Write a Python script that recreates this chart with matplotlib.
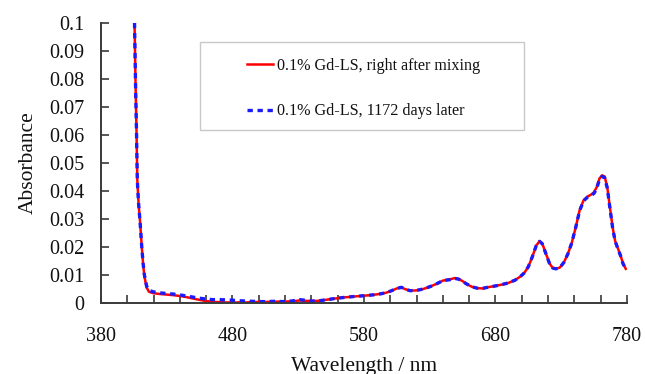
import matplotlib
matplotlib.use("Agg")
import matplotlib.pyplot as plt
from matplotlib.patches import Rectangle
from matplotlib.lines import Line2D

# Absorption spectra of 0.1% Gd-loaded liquid scintillator
wavelength = [405.5, 406.2, 407.0, 407.6, 408.5, 409.7, 411.0, 412.0, 413.0, 414.7,
              416.5, 419.8, 425, 430, 435, 440, 445, 450, 455, 460,
              465, 470, 475, 480, 485, 490, 495, 500, 506, 512,
              518, 525, 531, 535, 540, 546, 552, 558, 565, 572,
              580, 587, 593, 597, 601, 605, 608.5, 611, 615, 620,
              625, 630, 635, 640, 645, 649, 652, 655, 658, 662,
              666, 670, 675, 680, 685, 690, 695, 699, 702, 705,
              708, 711, 713.5, 715.5, 718, 721, 723.5, 726, 729, 732,
              735, 738, 741, 744, 747, 750, 753, 755, 757, 759,
              761, 763, 765, 767, 769, 771, 773, 775, 777, 779.5]

abs_fresh = [0.1000, 0.0800, 0.0610, 0.0440, 0.0360, 0.0290, 0.0200, 0.0140, 0.0095, 0.0055,
             0.0040, 0.0035, 0.0032, 0.0030, 0.0028, 0.0025, 0.0021, 0.0016, 0.0011, 0.0007,
             0.0004, 0.0003, 0.0002, 0.0002, 0.0002, 0.0002, 0.0003, 0.0004, 0.0004, 0.0005,
             0.0005, 0.0006, 0.0009, 0.0008, 0.0007, 0.0008, 0.0012, 0.0016, 0.0020, 0.0023,
             0.0026, 0.0029, 0.0033, 0.0037, 0.0044, 0.0052, 0.0056, 0.0050, 0.0044, 0.0045,
             0.0050, 0.0058, 0.0068, 0.0080, 0.0084, 0.0089, 0.0086, 0.0078, 0.0068, 0.0058,
             0.0053, 0.0052, 0.0057, 0.0061, 0.0066, 0.0072, 0.0082, 0.0095, 0.0108, 0.0130,
             0.0165, 0.0205, 0.0221, 0.0213, 0.0181, 0.0142, 0.0125, 0.0122, 0.0127, 0.0145,
             0.0175, 0.0215, 0.0270, 0.0332, 0.0367, 0.0380, 0.0388, 0.0396, 0.0414, 0.0444,
             0.0456, 0.0452, 0.0413, 0.0342, 0.0272, 0.0221, 0.0196, 0.0171, 0.0141, 0.0118]

abs_aged = [0.1000, 0.0800, 0.0610, 0.0440, 0.0360, 0.0290, 0.0200, 0.0142, 0.0100, 0.0060,
            0.0045, 0.0040, 0.0036, 0.0034, 0.0032, 0.0029, 0.0025, 0.0021, 0.0017, 0.0014,
            0.0012, 0.0012, 0.0011, 0.0010, 0.0008, 0.0007, 0.0006, 0.0005, 0.0005, 0.0006,
            0.0005, 0.0007, 0.0012, 0.0010, 0.0007, 0.0008, 0.0012, 0.0016, 0.0020, 0.0023,
            0.0026, 0.0029, 0.0033, 0.0037, 0.0044, 0.0052, 0.0056, 0.0050, 0.0044, 0.0045,
            0.0050, 0.0058, 0.0068, 0.0080, 0.0083, 0.0088, 0.0085, 0.0077, 0.0068, 0.0058,
            0.0053, 0.0052, 0.0057, 0.0061, 0.0066, 0.0072, 0.0082, 0.0095, 0.0108, 0.0130,
            0.0165, 0.0205, 0.0220, 0.0212, 0.0180, 0.0142, 0.0125, 0.0122, 0.0127, 0.0145,
            0.0175, 0.0215, 0.0270, 0.0330, 0.0365, 0.0378, 0.0385, 0.0392, 0.0410, 0.0440,
            0.0452, 0.0448, 0.0410, 0.0340, 0.0270, 0.0220, 0.0195, 0.0170, 0.0140, 0.0118]

label_fresh = "0.1% Gd-LS, right after mixing"
label_aged = "0.1% Gd-LS, 1172 days later"

x_ticks_major = [380, 480, 580, 680, 780]
y_ticks = [0, 0.01, 0.02, 0.03, 0.04, 0.05, 0.06, 0.07, 0.08, 0.09, 0.1]
y_tick_labels = ["0", "0.01", "0.02", "0.03", "0.04", "0.05", "0.06", "0.07", "0.08", "0.09", "0.1"]

plt.rcParams["font.family"] = ["Liberation Serif", "DejaVu Serif"]
spine_col = "#3a3a3a"

fig = plt.figure(figsize=(6.45, 3.74), dpi=100)
ax = fig.add_axes([101 / 645, 1 - 303 / 374, 526 / 645, 280 / 374])

ax.plot(wavelength, abs_fresh, color="#ff0000", lw=1.8, solid_capstyle="butt")
ax.plot(wavelength, abs_aged, color="#1a1aff", lw=2.4, dashes=(1.6, 1.4))

ax.set_xlim(380, 780)
ax.set_ylim(0, 0.1)
ax.set_xticks(x_ticks_major)
ax.set_xticks(range(380, 781, 20), minor=True)
ax.set_yticks(y_ticks)
ax.set_yticklabels(y_tick_labels)

for side in ("top", "right"):
    ax.spines[side].set_visible(False)
for side in ("left", "bottom"):
    ax.spines[side].set_color(spine_col)
    ax.spines[side].set_linewidth(1.4)

ax.tick_params(axis="both", which="both", direction="in", length=5.5, width=1.2,
               color=spine_col, labelsize=14.5, labelcolor="#111111")
ax.tick_params(axis="x", which="major", pad=17)
ax.tick_params(axis="y", which="major", pad=12)

ax.set_ylabel("Absorbance", fontsize=15.5, color="#111111", labelpad=8)
ax.set_xlabel("Wavelength / nm", fontsize=15.5, color="#111111", labelpad=8)

# Legend frame and entries
frame = Rectangle((200, 374 - 130), 324, 88, transform=None, fill=False,
                  edgecolor="#c8c8c8", lw=1.0)
fig.patches.append(frame)
handles = [Line2D([], [], color="#ff0000", lw=1.8),
           Line2D([], [], color="#1a1aff", lw=2.4, dashes=(1.6, 1.4))]
leg = ax.legend(handles, [label_fresh, label_aged], frameon=False,
                loc="upper left", bbox_to_anchor=(247 / 645, 1 - 58 / 374),
                bbox_transform=fig.transFigure, borderpad=0, borderaxespad=0,
                handlelength=1.6, handletextpad=0.25, labelspacing=1.82,
                prop={"size": 11.6})
for t in leg.get_texts():
    t.set_color("#111111")

fig.savefig("out.png", dpi=100)
